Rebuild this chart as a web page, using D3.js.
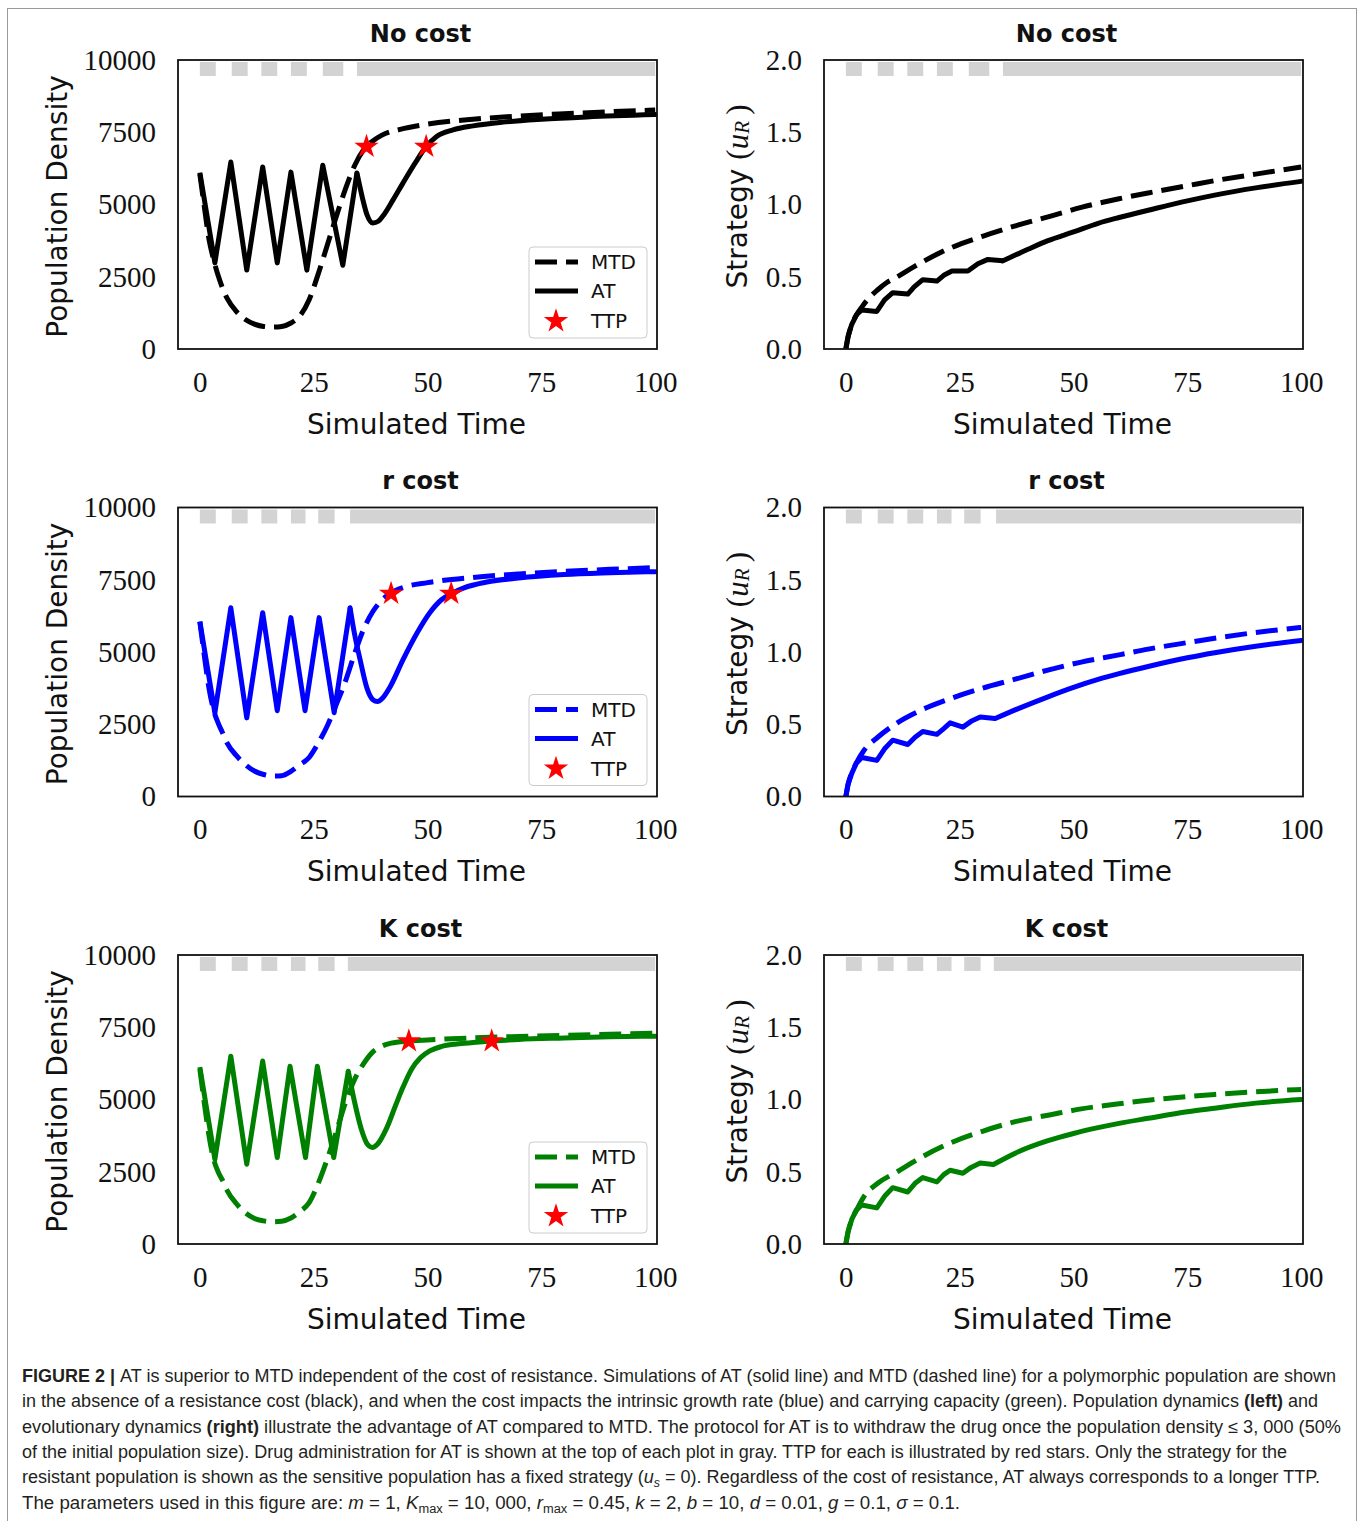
<!DOCTYPE html>
<html>
<head>
<meta charset="utf-8">
<script src="https://cdn.jsdelivr.net/npm/d3@7"></script>
<style>
body { margin: 0; background: #fff; }
</style>
</head>
<body>
<div id="figure"></div>
<script>
// ---- values ----
const timeTicks = [0, 25, 50, 75, 100];
const popTicks = [0, 2500, 5000, 7500, 10000];
const stratTicks = [0, 0.5, 1.0, 1.5, 2.0];

// drug administration windows for AT (gray bars)
const noCostDrugOn = [[0,3.5],[7,10.5],[13.5,17],[20,23.5],[27,31.5],[34.5,100]];
const rCostDrugOn  = [[0,3.5],[7,10.5],[13.5,17],[20,23.2],[26,29.6],[33,100]];
const kCostDrugOn  = [[0,3.5],[7,10.5],[13.5,17],[20,23.2],[26,29.6],[32.5,100]];

// population density [time, value]
const noCostPopMTD = [[0,6050],[1,4900],[2,3800],[3,3100],[4,2550],[5,2100],[6,1750],[8,1300],[10,1020],[12,860],[14,780],[16,760],[18,780],[20,900],[22,1150],[24,1700],[26,2600],[28,3600],[30,4600],[32,5550],[34,6350],[36,6900],[38,7200],[40,7400],[44,7600],[50,7780],[60,7950],[70,8060],[80,8140],[90,8210],[100,8270]];
const noCostPopAT = [[0,6100],[3.3,2980],[6.8,6470],[10.3,2730],[13.8,6300],[17,2980],[20,6120],[23.5,2730],[27,6360],[31.4,2900],[34.5,6090],[35.6,5300],[36.7,4650],[38,4360],[39.2,4420],[40.2,4600],[42.4,5150],[44.6,5740],[47.3,6440],[49.7,7000],[52,7350],[55.6,7580],[60,7720],[66.6,7850],[75,7950],[85,8030],[100,8110]];
const noCostTTP = [[36.6,7000],[49.7,7000]];

const rCostPopMTD = [[0,6050],[1,4850],[2,3750],[3,3000],[4,2550],[5,2200],[6,1850],[8,1420],[10,1100],[12,880],[14,760],[16,710],[18,720],[20,870],[22,1100],[24,1350],[26,1850],[28,2450],[30,3200],[32,4000],[34,4950],[36,5800],[38,6400],[40,6800],[42,7050],[45,7250],[50,7400],[60,7580],[70,7700],[80,7790],[90,7860],[100,7920]];
const rCostPopAT = [[0,6050],[3.3,2890],[6.8,6530],[10.3,2720],[13.8,6360],[17,2970],[20,6190],[23.1,2970],[26.2,6190],[29.5,2900],[33,6530],[34,5600],[35.2,4730],[36.7,3750],[38,3350],[39,3290],[40.2,3420],[41.8,3800],[44.6,4730],[47.7,5660],[50.5,6360],[53,6800],[55.2,7020],[58,7220],[63,7420],[70,7560],[80,7680],[90,7740],[100,7780]];
const rCostTTP = [[42,7020],[55.2,7020]];

const kCostPopMTD = [[0,6050],[1,4850],[2,3750],[3,2950],[4,2500],[5,2200],[6,1850],[8,1400],[10,1080],[12,880],[14,800],[16,770],[18,790],[20,900],[22,1120],[24,1430],[26,2100],[28,2950],[30,3900],[32,4900],[34,5700],[36,6250],[38,6650],[40,6850],[42,6950],[45.9,7020],[50,7060],[60,7130],[70,7180],[80,7220],[90,7260],[100,7290]];
const kCostPopAT = [[0,6120],[3.3,2930],[6.8,6500],[10.3,2760],[13.8,6330],[17,2990],[19.8,6150],[23.2,2990],[25.8,6150],[29.4,2990],[32.6,5980],[34,4900],[35.5,3950],[36.8,3450],[37.9,3340],[39,3450],[41,4000],[43,4800],[44.6,5420],[46.5,6050],[48.5,6450],[50.5,6680],[53,6830],[56.4,6920],[60,6970],[64.1,7020],[70,7080],[80,7130],[90,7170],[100,7190]];
const kCostTTP = [[45.9,7020],[64.1,7020]];

// strategy u_R [time, value]
const noCostStratMTD = [[0,0],[0.5,0.086],[1.25,0.167],[2.35,0.237],[3.5,0.29],[5,0.35],[7,0.41],[9,0.46],[11.3,0.5],[15,0.57],[22.3,0.69],[30,0.78],[37,0.85],[45,0.92],[51.7,0.98],[60,1.04],[66.4,1.08],[75,1.13],[81,1.165],[90,1.21],[100,1.26]];
const noCostStratAT = [[0,0],[0.5,0.086],[1.25,0.167],[2.35,0.237],[3.5,0.27],[6.8,0.26],[8.5,0.34],[10.3,0.39],[13.6,0.38],[15,0.43],[16.9,0.48],[20,0.47],[21.5,0.51],[23.3,0.54],[26.8,0.54],[29,0.59],[31.2,0.62],[34.5,0.61],[40,0.69],[44.4,0.75],[50,0.81],[55.4,0.87],[60,0.91],[66.4,0.96],[75,1.025],[81,1.065],[90,1.115],[100,1.16]];

const rCostStratMTD = [[0,0],[0.5,0.086],[1.25,0.16],[2.35,0.235],[4,0.32],[7,0.41],[11.3,0.51],[16,0.59],[22.3,0.67],[30,0.75],[37,0.81],[45,0.88],[51.7,0.93],[60,0.98],[66.4,1.02],[75,1.065],[81,1.095],[90,1.135],[100,1.17]];
const rCostStratAT = [[0,0],[0.5,0.086],[1.3,0.16],[2.3,0.23],[3.5,0.27],[6.8,0.25],[8.5,0.33],[10.3,0.39],[13.6,0.36],[15.2,0.41],[16.9,0.45],[20,0.43],[21.5,0.47],[22.9,0.51],[25.7,0.48],[27.5,0.52],[29.5,0.55],[32.8,0.54],[38,0.61],[44.4,0.69],[50,0.755],[55.4,0.81],[60,0.85],[66.4,0.9],[75,0.96],[81,0.995],[90,1.04],[100,1.08]];

const kCostStratMTD = [[0,0],[0.5,0.086],[1.25,0.165],[2.35,0.235],[4,0.33],[7,0.42],[11.3,0.50],[16,0.59],[22.3,0.69],[30,0.78],[37,0.845],[45,0.895],[51.7,0.935],[60,0.97],[66.4,0.995],[75,1.02],[81,1.035],[90,1.053],[100,1.07]];
const kCostStratAT = [[0,0],[0.5,0.086],[1.3,0.17],[2.3,0.235],[3.5,0.27],[6.8,0.25],[8.5,0.33],[10.3,0.39],[13.6,0.36],[15.2,0.42],[16.9,0.46],[20,0.43],[21.5,0.48],[22.9,0.51],[25.7,0.49],[27.5,0.53],[29.5,0.56],[32.4,0.55],[38,0.64],[44.4,0.715],[50,0.765],[55.4,0.805],[60,0.835],[66.4,0.87],[75,0.915],[81,0.94],[90,0.975],[100,1.00]];

const rowTitles = ["No cost", "r cost", "K cost"];
const rowColors = ["#000000", "#0000ff", "#008000"];
const legendLabels = ["MTD", "AT", "TTP"];

const captionLines = [
    [["FIGURE 2 | ","b"],["AT is superior to MTD independent of the cost of resistance. Simulations of AT (solid line) and MTD (dashed line) for a polymorphic population are shown",""]],
    [["in the absence of a resistance cost (black), and when the cost impacts the intrinsic growth rate (blue) and carrying capacity (green). Population dynamics ",""],["(left)","b"],[" and",""]],
    [["evolutionary dynamics ",""],["(right)","b"],[" illustrate the advantage of AT compared to MTD. The protocol for AT is to withdraw the drug once the population density \u2264 3, 000 (50%",""]],
    [["of the initial population size). Drug administration for AT is shown at the top of each plot in gray. TTP for each is illustrated by red stars. Only the strategy for the",""]],
    [["resistant population is shown as the sensitive population has a fixed strategy (",""],["u","i"],["s","isub"],[" = 0). Regardless of the cost of resistance, AT always corresponds to a longer TTP.",""]],
    [["The parameters used in this figure are: ",""],["m","i"],[" = 1, ",""],["K","i"],["max","sub"],[" = 10, 000, ",""],["r","i"],["max","sub"],[" = 0.45, ",""],["k","i"],[" = 2, ",""],["b","i"],[" = 10, ",""],["d","i"],[" = 0.01, ",""],["g","i"],[" = 0.1, ",""],["\u03c3","i"],[" = 0.1.",""]]
];
const captionEnds = [1336, 1318, 1341, 1287, 1320, 960];

// ---- layout ----
const W = 1360, H = 1521;
const frameW = 479, frameH = 289;
const colLeft = [178, 824];
const rowTop = [60, 507.5, 955];
const serif = "'Liberation Serif', 'DejaVu Serif', serif";
const sans = "'DejaVu Sans', sans-serif";

const rows = [
    {drug: noCostDrugOn, popMTD: noCostPopMTD, popAT: noCostPopAT, ttp: noCostTTP, stratMTD: noCostStratMTD, stratAT: noCostStratAT},
    {drug: rCostDrugOn,  popMTD: rCostPopMTD,  popAT: rCostPopAT,  ttp: rCostTTP,  stratMTD: rCostStratMTD,  stratAT: rCostStratAT},
    {drug: kCostDrugOn,  popMTD: kCostPopMTD,  popAT: kCostPopAT,  ttp: kCostTTP,  stratMTD: kCostStratMTD,  stratAT: kCostStratAT}
];

var svg = d3.select("#figure")
    .append("svg")
    .attr("width", W)
    .attr("height", H);

svg.append("rect")
    .attr("width", W).attr("height", H)
    .attr("fill", "#fff");

// outer box around figure + caption
svg.append("rect")
    .attr("x", 7.5).attr("y", 8.5)
    .attr("width", 1349).attr("height", 1540)
    .attr("fill", "none")
    .attr("stroke", "#9a9a9a")
    .attr("stroke-width", 1);

var x = d3.scaleLinear().domain([-4.8, 100.4]).range([0, frameW]);
var yPop = d3.scaleLinear().domain([0, 10000]).range([frameH, 0]);
var yStrat = d3.scaleLinear().domain([0, 2]).range([frameH, 0]);
var star = d3.symbol().type(d3.symbolStar).size(185);

function drawPanel(r, c){
    var row = rows[r];
    var color = rowColors[r];
    var isPop = c === 0;
    var y = isPop ? yPop : yStrat;
    var clipId = "clip-" + r + "-" + c;

    var g = svg.append("g")
        .attr("transform", "translate(" + colLeft[c] + "," + rowTop[r] + ")");

    g.append("clipPath").attr("id", clipId)
        .append("rect").attr("width", frameW).attr("height", frameH);

    var plot = g.append("g").attr("clip-path", "url(#" + clipId + ")");

    // drug on bars
    plot.selectAll(".drug")
        .data(row.drug)
        .enter().append("rect")
        .attr("x", d => x(d[0]))
        .attr("width", d => x(d[1]) - x(d[0]))
        .attr("y", 2)
        .attr("height", 14)
        .attr("fill", "#d3d3d3");

    var lineLinear = d3.line().x(d => x(d[0])).y(d => y(d[1]));
    var lineSmooth = d3.line().x(d => x(d[0])).y(d => y(d[1])).curve(d3.curveMonotoneX);

    plot.append("path")
        .attr("d", lineSmooth(isPop ? row.popMTD : row.stratMTD))
        .attr("fill", "none")
        .attr("stroke", color)
        .attr("stroke-width", 5)
        .attr("stroke-dasharray", "22,9");

    // AT: on/off cycles are sharp, the tail after the last switch is smooth
    var at = isPop ? row.popAT : row.stratAT;
    var lastSwitch = row.drug[row.drug.length - 1][0];
    var cycles = at.filter(d => d[0] <= lastSwitch + 0.3);
    var tail = at.filter(d => d[0] >= cycles[cycles.length - 1][0]);

    plot.append("path")
        .attr("d", lineLinear(cycles))
        .attr("fill", "none")
        .attr("stroke", color)
        .attr("stroke-width", 5)
        .attr("stroke-linejoin", "round");
    plot.append("path")
        .attr("d", lineSmooth(tail))
        .attr("fill", "none")
        .attr("stroke", color)
        .attr("stroke-width", 5)
        .attr("stroke-linecap", "round")
        .attr("stroke-linejoin", "round");

    if(isPop){
        g.selectAll(".ttp")
            .data(row.ttp)
            .enter().append("path")
            .attr("d", star)
            .attr("transform", d => "translate(" + x(d[0]) + "," + y(d[1]) + ")")
            .attr("fill", "#ff0000");
    }

    // frame
    g.append("rect")
        .attr("width", frameW).attr("height", frameH)
        .attr("fill", "none")
        .attr("stroke", "#111")
        .attr("stroke-width", 1.8);

    // axes (labels only, matplotlib style without visible ticks)
    var xAxis = g.append("g")
        .attr("transform", "translate(0," + frameH + ")")
        .call(d3.axisBottom(x).tickValues(timeTicks).tickSize(0).tickPadding(22).tickFormat(d3.format("d")));
    var yAxis = g.append("g")
        .call(d3.axisLeft(y).tickValues(isPop ? popTicks : stratTicks).tickSize(0).tickPadding(22)
            .tickFormat(isPop ? d3.format("d") : d3.format(".1f")));
    [xAxis, yAxis].forEach(a => {
        a.select(".domain").remove();
        a.selectAll("text")
            .style("font-family", serif)
            .style("font-size", "29px")
            .attr("fill", "#111");
    });

    g.append("text")
        .attr("x", frameW / 2 - 1)
        .attr("y", frameH + 75)
        .attr("text-anchor", "middle")
        .attr("dominant-baseline", "central")
        .style("font-family", sans)
        .style("font-size", "28px")
        .attr("fill", "#111")
        .text("Simulated Time");

    g.append("text")
        .attr("x", frameW / 2 + 3)
        .attr("y", -26.5)
        .attr("text-anchor", "middle")
        .attr("dominant-baseline", "central")
        .style("font-family", sans)
        .style("font-weight", "bold")
        .style("font-size", "24px")
        .attr("fill", "#111")
        .text(rowTitles[r]);

    if(isPop){
        g.append("text")
            .attr("transform", "translate(-121," + (frameH / 2 + 2) + ") rotate(-90)")
            .attr("text-anchor", "middle")
            .attr("dominant-baseline", "central")
            .style("font-family", sans)
            .style("font-size", "28px")
            .attr("fill", "#111")
            .text("Population Density");
        drawLegend(g, color);
    } else {
        var lab = g.append("text")
            .attr("transform", "translate(-87," + (frameH / 2 - 8) + ") rotate(-90)")
            .attr("text-anchor", "middle")
            .attr("dominant-baseline", "central")
            .attr("fill", "#111")
            .style("font-size", "28px");
        lab.append("tspan").style("font-family", sans).text("Strategy ");
        lab.append("tspan").style("font-family", serif).style("font-size", "31px").text("(");
        lab.append("tspan").style("font-family", serif).style("font-style", "italic").style("font-size", "31px").text("u");
        lab.append("tspan").style("font-family", serif).style("font-style", "italic").style("font-size", "21px")
            .attr("baseline-shift", "-5").text("R");
        lab.append("tspan").style("font-family", serif).style("font-size", "31px").text("\u2009)");
    }
}

function drawLegend(g, color){
    var lg = g.append("g").attr("transform", "translate(351,187)");
    lg.append("rect")
        .attr("width", 118).attr("height", 91)
        .attr("rx", 4)
        .attr("fill", "#fff")
        .attr("fill-opacity", 0.8)
        .attr("stroke", "#cccccc")
        .attr("stroke-width", 1);
    var rowsY = [15, 44, 74];
    lg.append("line")
        .attr("x1", 6).attr("x2", 49).attr("y1", rowsY[0]).attr("y2", rowsY[0])
        .attr("stroke", color).attr("stroke-width", 5).attr("stroke-dasharray", "22,9");
    lg.append("line")
        .attr("x1", 6).attr("x2", 49).attr("y1", rowsY[1]).attr("y2", rowsY[1])
        .attr("stroke", color).attr("stroke-width", 5);
    lg.append("path")
        .attr("d", star)
        .attr("transform", "translate(27," + rowsY[2] + ")")
        .attr("fill", "#ff0000");
    lg.selectAll(".lab")
        .data(legendLabels)
        .enter().append("text")
        .attr("x", 62)
        .attr("y", (d, i) => rowsY[i])
        .attr("dominant-baseline", "central")
        .style("font-family", sans)
        .style("font-size", "20px")
        .attr("fill", "#111")
        .text(d => d);
}

for (let r = 0; r < 3; r++){
    for (let c = 0; c < 2; c++){
        drawPanel(r, c);
    }
}

// caption
var cap = svg.append("g").attr("class", "caption");
captionLines.forEach((segs, i) => {
    var t = cap.append("text")
        .attr("x", 22)
        .attr("y", 1382 + i * 25.3)
        .attr("textLength", captionEnds[i] - 22)
        .attr("lengthAdjust", "spacingAndGlyphs")
        .style("font-family", "'Liberation Sans', Arial, sans-serif")
        .style("font-size", "17.5px")
        .attr("fill", "#231f20");
    segs.forEach(s => {
        var sp = t.append("tspan").text(s[0]);
        if(s[1] === "b") sp.style("font-weight", "bold");
        if(s[1] === "i" || s[1] === "isub") sp.style("font-style", "italic");
        if(s[1] === "sub" || s[1] === "isub") sp.style("font-size", "12px").attr("baseline-shift", "-4");
    });
});
</script>
</body>
</html>
